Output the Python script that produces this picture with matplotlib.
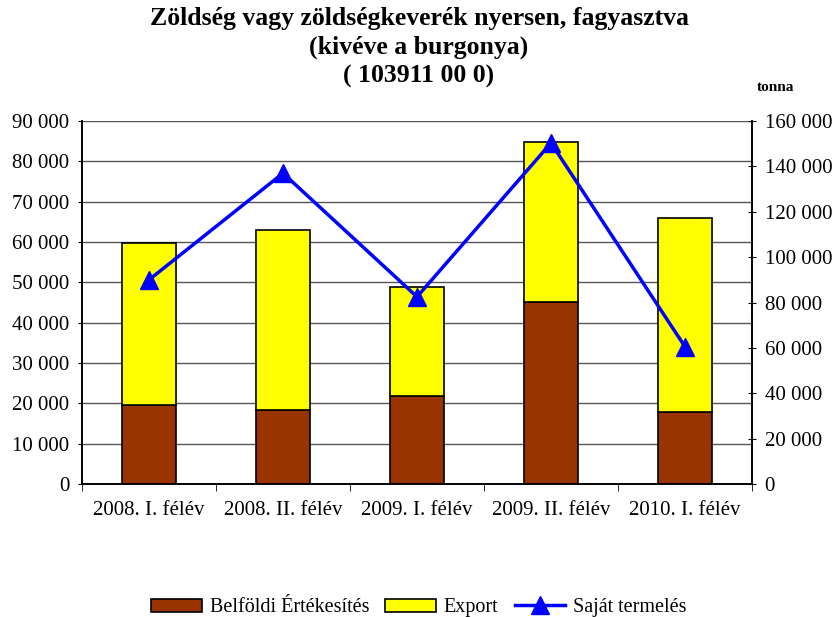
import numpy as np
import matplotlib.pyplot as plt

categories = ["2008. I. félév", "2008. II. félév", "2009. I. félév", "2009. II. félév", "2010. I. félév"]
belfoldi = [19700, 18300, 21900, 45100, 17900]
export = [40000, 44750, 26950, 39700, 48100]
sajat = [90000, 137000, 82500, 150300, 60500]

plt.rcParams['font.family'] = ['Liberation Serif', 'DejaVu Serif']

fig = plt.figure(figsize=(8.38, 6.17), dpi=100)
ax = fig.add_axes([82 / 838, 133 / 617, 670 / 838, 363 / 617])
ax2 = ax.twinx()

x = np.arange(len(categories))
w = 0.41
ax.bar(x, belfoldi, w, color='#993300', edgecolor='black', lw=1.2, label='Belföldi Értékesítés', zorder=3)
ax.bar(x, export, w, bottom=belfoldi, color='#ffff00', edgecolor='black', lw=1.2, label='Export', zorder=3)
ax2.plot(x, sajat, color='#0000ff', lw=2.5, marker='^', ms=13, label='Saját termelés', zorder=4)

ax.set_xlim(-0.5, len(categories) - 0.5)
ax.set_ylim(0, 90000)
ax2.set_ylim(0, 160000)
ax.set_yticks(np.arange(0, 90001, 10000))
ax2.set_yticks(np.arange(0, 160001, 20000))
fmt = lambda v: f"{int(v):,}".replace(",", " ")
ax.set_yticklabels([fmt(v) for v in ax.get_yticks()], fontsize=15)
ax2.set_yticklabels([fmt(v) for v in ax2.get_yticks()], fontsize=15)

ax.set_xticks(x)
ax.set_xticklabels(categories, fontsize=15)
ax.tick_params(axis='x', which='major', length=0, pad=12)
ax.set_xticks(np.arange(-0.5, len(categories)), minor=True)
ax.tick_params(axis='x', which='minor', length=5, direction='out')
ax.tick_params(axis='y', length=3, direction='out', pad=6)
ax2.tick_params(axis='y', length=6, direction='inout', pad=6)

ax.grid(axis='y', color='#555555', lw=1, zorder=0)
ax.set_axisbelow(True)
for a in (ax, ax2):
    a.spines['top'].set_visible(False)
    for s in ('left', 'right', 'bottom'):
        a.spines[s].set_linewidth(1.2)

ax.set_zorder(1)
ax2.set_zorder(2)
ax2.patch.set_visible(False)

fig.text(0.5, 0.988, "Zöldség vagy zöldségkeverék nyersen, fagyasztva\n(kivéve a burgonya)\n( 103911 00 0)",
         ha='center', va='top', fontsize=18.5, fontweight='bold', linespacing=1.3)
fig.text(0.925, 0.858, "tonna", ha='center', va='center', fontsize=11, fontweight='bold')

h1, l1 = ax.get_legend_handles_labels()
h2, l2 = ax2.get_legend_handles_labels()
fig.legend(h1 + h2, l1 + l2, loc='center', bbox_to_anchor=(0.5, 0.015), ncol=3, frameon=False,
           fontsize=14.5, handlelength=2.5, handleheight=0.6, columnspacing=0.8, handletextpad=0.4)

fig.savefig("out.png", dpi=100)
